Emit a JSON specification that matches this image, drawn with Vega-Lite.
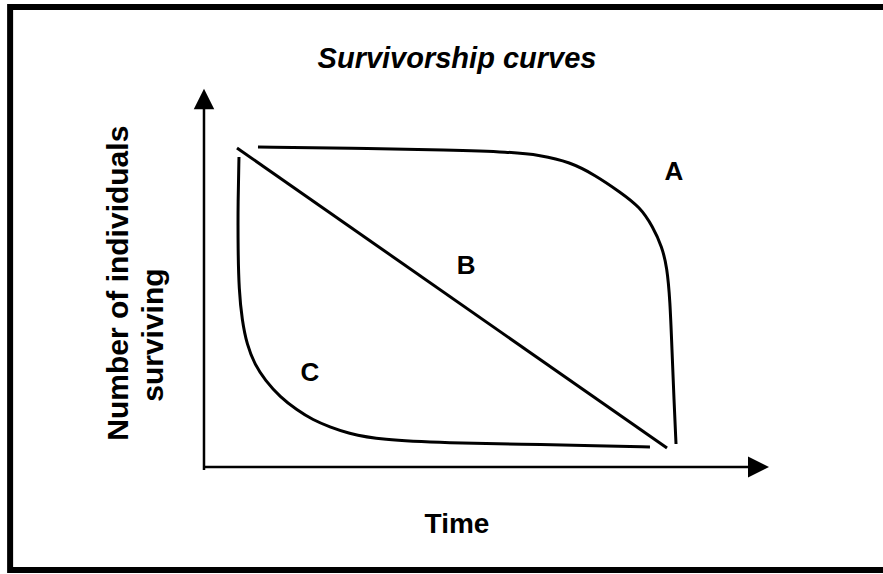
{
  "$schema": "https://vega.github.io/schema/vega-lite/v6.json",
  "width": 883,
  "height": 574,
  "padding": 0,
  "autosize": {"type": "none"},
  "background": "white",
  "config": {"view": {"stroke": null}},
  "datasets": {
    "curves": [
      {"curve": "A", "i": 0, "t": 9.46, "n": 84.43},
      {"curve": "A", "i": 1, "t": 25.89, "n": 84.17},
      {"curve": "A", "i": 2, "t": 43.75, "n": 83.64},
      {"curve": "A", "i": 3, "t": 54.46, "n": 83.11},
      {"curve": "A", "i": 4, "t": 59.82, "n": 82.32},
      {"curve": "A", "i": 5, "t": 65.18, "n": 80.47},
      {"curve": "A", "i": 6, "t": 69.64, "n": 77.04},
      {"curve": "A", "i": 7, "t": 74.11, "n": 72.56},
      {"curve": "A", "i": 8, "t": 77.68, "n": 68.6},
      {"curve": "A", "i": 9, "t": 80.0, "n": 63.32},
      {"curve": "A", "i": 10, "t": 81.61, "n": 58.05},
      {"curve": "A", "i": 11, "t": 82.5, "n": 52.77},
      {"curve": "A", "i": 12, "t": 83.04, "n": 44.06},
      {"curve": "A", "i": 13, "t": 83.39, "n": 30.87},
      {"curve": "A", "i": 14, "t": 83.75, "n": 17.68},
      {"curve": "A", "i": 15, "t": 84.11, "n": 6.07},
      {"curve": "B", "i": 0, "t": 5.71, "n": 84.17},
      {"curve": "B", "i": 1, "t": 82.5, "n": 5.01},
      {"curve": "C", "i": 0, "t": 6.07, "n": 81.79},
      {"curve": "C", "i": 1, "t": 5.89, "n": 70.45},
      {"curve": "C", "i": 2, "t": 5.89, "n": 57.26},
      {"curve": "C", "i": 3, "t": 6.07, "n": 46.7},
      {"curve": "C", "i": 4, "t": 6.61, "n": 38.79},
      {"curve": "C", "i": 5, "t": 7.5, "n": 32.19},
      {"curve": "C", "i": 6, "t": 8.93, "n": 26.91},
      {"curve": "C", "i": 7, "t": 10.71, "n": 22.96},
      {"curve": "C", "i": 8, "t": 13.39, "n": 18.47},
      {"curve": "C", "i": 9, "t": 16.43, "n": 15.04},
      {"curve": "C", "i": 10, "t": 19.29, "n": 12.4},
      {"curve": "C", "i": 11, "t": 22.32, "n": 10.55},
      {"curve": "C", "i": 12, "t": 25.36, "n": 8.97},
      {"curve": "C", "i": 13, "t": 31.25, "n": 7.12},
      {"curve": "C", "i": 14, "t": 43.75, "n": 6.33},
      {"curve": "C", "i": 15, "t": 56.25, "n": 6.07},
      {"curve": "C", "i": 16, "t": 70.54, "n": 5.54},
      {"curve": "C", "i": 17, "t": 79.46, "n": 5.28}
    ],
    "axes": [
      {"axis": "y", "t": -0.18, "n": -0.79, "t2": -0.18, "n2": 94.46},
      {"axis": "x", "t": -0.18, "n": 0, "t2": 97.32, "n2": 0}
    ],
    "frame": [
      {"t": -34.8, "n": 121.37, "t2": 130.0, "n2": -27.18}
    ],
    "labels": [
      {"label": "A", "t": 83.75, "n": 77.84},
      {"label": "B", "t": 46.61, "n": 53.03},
      {"label": "C", "t": 18.75, "n": 24.8}
    ]
  },
  "encoding": {
    "x": {"type": "quantitative", "scale": {"domain": [-36.607, 121.071], "nice": false, "zero": false}, "axis": null},
    "y": {"type": "quantitative", "scale": {"domain": [-28.232, 123.219], "nice": false, "zero": false}, "axis": null}
  },
  "layer": [
    {
      "data": {"name": "frame"},
      "mark": {"type": "rect", "fill": null, "stroke": "black", "strokeWidth": 6},
      "encoding": {"x": {"field": "t"}, "x2": {"field": "t2"}, "y": {"field": "n"}, "y2": {"field": "n2"}}
    },
    {
      "data": {"name": "axes"},
      "mark": {"type": "rule", "stroke": "black", "strokeWidth": 2.5},
      "encoding": {"x": {"field": "t"}, "x2": {"field": "t2"}, "y": {"field": "n"}, "y2": {"field": "n2"}}
    },
    {
      "data": {"values": [{"t": -0.18, "n": 97.1}]},
      "mark": {"type": "point", "shape": "M0,-1L1,1L-1,1Z", "size": 420, "filled": true, "fill": "black", "stroke": null, "opacity": 1},
      "encoding": {"x": {"field": "t"}, "y": {"field": "n"}}
    },
    {
      "data": {"values": [{"t": 98.84, "n": 0}]},
      "mark": {"type": "point", "shape": "M1,0L-1,-1L-1,1Z", "size": 440, "filled": true, "fill": "black", "stroke": null, "opacity": 1},
      "encoding": {"x": {"field": "t"}, "y": {"field": "n"}}
    },
    {
      "data": {"name": "curves"},
      "mark": {"type": "line", "stroke": "black", "strokeWidth": 3, "interpolate": "basis"},
      "encoding": {"x": {"field": "t"}, "y": {"field": "n"}, "detail": {"field": "curve"}, "order": {"field": "i", "type": "quantitative"}}
    },
    {
      "data": {"name": "labels"},
      "mark": {"type": "text", "font": "Liberation Sans", "fontWeight": "bold", "fontSize": 26, "align": "center", "baseline": "middle", "color": "black"},
      "encoding": {"x": {"field": "t"}, "y": {"field": "n"}, "text": {"field": "label"}}
    },
    {
      "data": {"values": [{"text": "Survivorship curves", "t": 45.0, "n": 105.28}]},
      "mark": {"type": "text", "font": "Liberation Sans", "fontWeight": "bold", "fontStyle": "italic", "fontSize": 29, "align": "center", "baseline": "alphabetic", "color": "black"},
      "encoding": {"x": {"field": "t"}, "y": {"field": "n"}, "text": {"field": "text"}}
    },
    {
      "data": {"values": [{"text": "Time", "t": 45.0, "n": -17.41}]},
      "mark": {"type": "text", "font": "Liberation Sans", "fontWeight": "bold", "fontSize": 28, "align": "center", "baseline": "alphabetic", "color": "black"},
      "encoding": {"x": {"field": "t"}, "y": {"field": "n"}, "text": {"field": "text"}}
    },
    {
      "data": {"values": [
        {"text": "Number of individuals", "t": -13.75, "n": 48.5},
        {"text": "surviving", "t": -7.5, "n": 34.8}
      ]},
      "mark": {"type": "text", "font": "Liberation Sans", "fontWeight": "bold", "fontSize": 30, "angle": 270, "align": "center", "baseline": "alphabetic", "color": "black"},
      "encoding": {"x": {"field": "t"}, "y": {"field": "n"}, "text": {"field": "text"}}
    }
  ]
}
